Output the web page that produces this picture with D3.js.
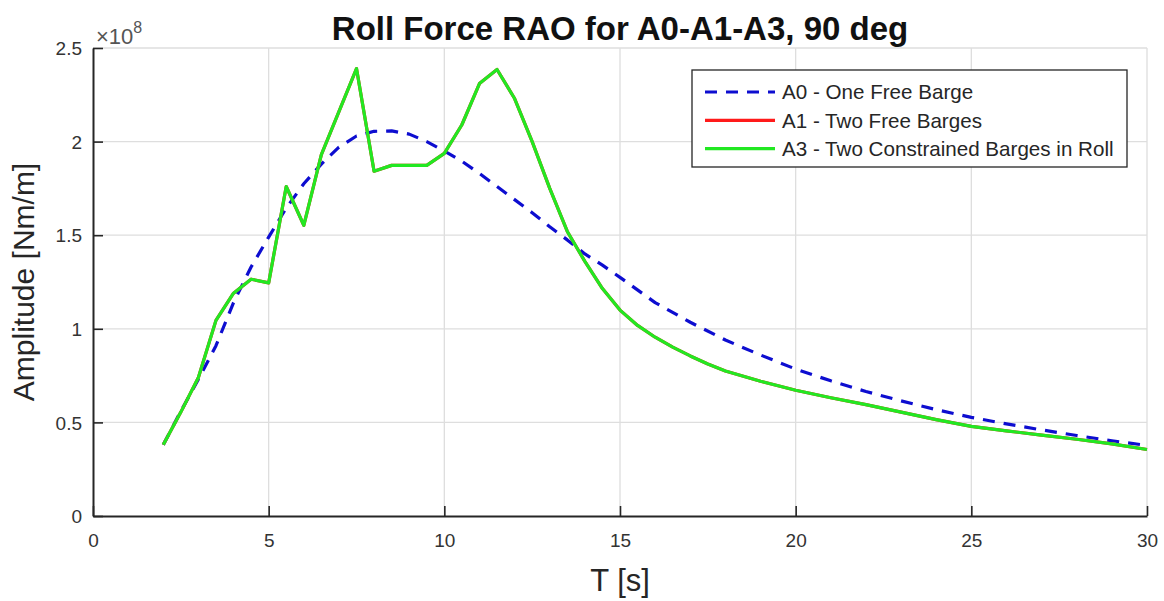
<!DOCTYPE html>
<html>
<head>
<meta charset="utf-8">
<script src="https://cdn.jsdelivr.net/npm/d3@7"></script>
<style>
html,body{margin:0;padding:0;background:#fff;}
svg{display:block;font-family:"Liberation Sans",Arial,Helvetica,sans-serif;}
</style>
</head>
<body>
<svg id="chart" width="1164" height="601"></svg>
<script>
// ---- data (amplitude in units of 1e8 Nm/m) ----
const periodA0 = [2,2.5,3,3.5,4,4.5,5,5.5,6,6.5,7,7.5,8,8.5,9,9.5,10,10.5,11,11.5,12,12.5,13,13.5,14,14.5,15,16,17,18,19,20,21,22,23,24,25,26,27,28,29,30];
const ampA0 = [0.38,0.56,0.73,0.91,1.14,1.33,1.49,1.645,1.775,1.88,1.97,2.03,2.055,2.057,2.04,2.0,1.95,1.895,1.83,1.76,1.69,1.62,1.545,1.475,1.40,1.34,1.275,1.14,1.035,0.94,0.86,0.785,0.722,0.665,0.615,0.568,0.527,0.492,0.46,0.43,0.402,0.377];

const periodA1 = [2,2.5,3,3.5,4,4.5,5,5.5,6,6.5,7,7.5,8,8.5,9,9.5,10,10.5,11,11.5,12,12.5,13,13.5,14,14.5,15,15.5,16,16.5,17,17.5,18,19,20,21,22,23,24,25,26,27,28,29,30];
const ampA1 = [0.38,0.555,0.74,1.045,1.19,1.265,1.245,1.76,1.553,1.93,2.16,2.39,1.842,1.873,1.873,1.873,1.937,2.09,2.31,2.385,2.23,2.0,1.75,1.52,1.36,1.215,1.10,1.018,0.955,0.902,0.855,0.812,0.775,0.72,0.672,0.632,0.595,0.555,0.515,0.479,0.455,0.432,0.41,0.385,0.355];

const periodA3 = periodA1.slice();
const ampA3 = ampA1.slice();

const xTicks = [0,5,10,15,20,25,30];
const yTicks = [0,0.5,1,1.5,2,2.5];
const yTickLabels = ["0","0.5","1","1.5","2","2.5"];
const seriesNames = ["A0 - One Free Barge","A1 - Two Free Barges","A3 - Two Constrained Barges in Roll"];
const seriesColors = ["#0d0dd0","#ff1a1a","#22e822"];
const seriesDash = ["12,9",null,null];

// ---- layout ----
const svg = d3.select("#chart");
const L = 93, R = 1147, T = 48, B = 516;
const x = d3.scaleLinear().domain([0,30]).range([L,R]);
const y = d3.scaleLinear().domain([0,2.5]).range([B,T]);
const axisColor = "#262626";

// grid
const grid = svg.append("g");
grid.selectAll("line.gx").data(xTicks.filter(d=>d>0)).enter().append("line")
  .attr("x1",d=>x(d)).attr("x2",d=>x(d)).attr("y1",T).attr("y2",B)
  .attr("stroke","#dedede").attr("stroke-width",1.3);
grid.selectAll("line.gy").data(yTicks.filter(d=>d>0)).enter().append("line")
  .attr("x1",L).attr("x2",R).attr("y1",d=>y(d)).attr("y2",d=>y(d))
  .attr("stroke","#dedede").attr("stroke-width",1.3);

// axes
const xAxis = d3.axisBottom(x).tickValues(xTicks).tickSizeInner(-10).tickSizeOuter(0).tickPadding(20);
const yAxis = d3.axisLeft(y).tickValues(yTicks).tickFormat((d,i)=>yTickLabels[i]).tickSizeInner(-10).tickSizeOuter(0).tickPadding(20);
const gx = svg.append("g").attr("transform",`translate(0,${B})`).call(xAxis);
const gy = svg.append("g").attr("transform",`translate(${L},0)`).call(yAxis);
[gx,gy].forEach(g=>{
  g.select(".domain").attr("stroke",axisColor).attr("stroke-width",2);
  g.selectAll(".tick line").attr("stroke",axisColor).attr("stroke-width",1.6);
  g.selectAll(".tick text").attr("fill","#333").style("font-size","19px").style("font-family","'Liberation Sans',Arial,sans-serif");
});
gx.selectAll(".tick text").attr("dy","0.71em").attr("y",18);
gy.selectAll(".tick text").attr("x",-11).attr("dy","0.35em");

// exponent label
const ex = svg.append("text").attr("x",96).attr("y",44).attr("fill","#555").style("font-size","22px");
ex.append("tspan").text("\u00d710");
ex.append("tspan").attr("dy",-11).style("font-size","16px").text("8");

// lines
const line = d3.line().x(d=>x(d[0])).y(d=>y(d[1]));
const datasets = [
  d3.zip(periodA0, ampA0),
  d3.zip(periodA1, ampA1),
  d3.zip(periodA3, ampA3)
];
datasets.forEach((ds,i)=>{
  svg.append("path").datum(ds).attr("d",line)
    .attr("fill","none").attr("stroke",seriesColors[i]).attr("stroke-width",3.2)
    .attr("stroke-linejoin","round")
    .attr("stroke-dasharray",seriesDash[i]);
});

// title & labels
svg.append("text").attr("x",(L+R)/2).attr("y",40).attr("text-anchor","middle")
  .style("font-size","33px").style("font-weight","bold").attr("fill","#111")
  .text("Roll Force RAO for A0-A1-A3, 90 deg");
svg.append("text").attr("x",(L+R)/2).attr("y",591).attr("text-anchor","middle")
  .style("font-size","31px").attr("fill","#262626").text("T [s]");
svg.append("text").attr("transform",`translate(34,${(T+B)/2}) rotate(-90)`).attr("text-anchor","middle")
  .style("font-size","30px").attr("fill","#262626").text("Amplitude [Nm/m]");

// legend
const lg = svg.append("g");
lg.append("rect").attr("x",692).attr("y",70).attr("width",435).attr("height",97)
  .attr("fill","#fff").attr("stroke","#262626").attr("stroke-width",1.3);
seriesNames.forEach((n,i)=>{
  const yy = 92 + i*28.3;
  lg.append("line").attr("x1",705).attr("x2",775).attr("y1",yy).attr("y2",yy)
    .attr("stroke",seriesColors[i]).attr("stroke-width",3.2).attr("stroke-dasharray",seriesDash[i]);
  lg.append("text").attr("x",782).attr("y",yy).attr("dy","0.36em")
    .style("font-size","20.6px").attr("fill","#262626").text(n);
});
</script>
</body>
</html>
